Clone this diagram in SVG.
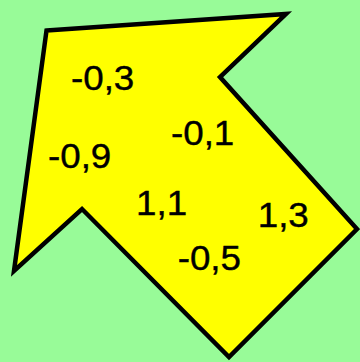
<svg xmlns="http://www.w3.org/2000/svg" width="360" height="362" viewBox="0 0 360 362">
<style>
.bg{fill:#98FB98}
.arrow{fill:#FFFF00;stroke:#000;stroke-width:4.5;stroke-linejoin:miter;stroke-miterlimit:10}
.lbl{font-family:"Liberation Sans",Arial,sans-serif;font-size:35px;fill:#000;stroke:#000;stroke-width:0.4}
</style>
<rect class="bg" x="0" y="0" width="360" height="362"/>
<g id="arrow">
<polygon class="arrow" points="46.5,30.5 286,14 220,77 357,229 229,357 82,209 14,271"/>
</g>
<g id="labels">
<text class="lbl" transform="translate(71,89.5) scale(1.05,1)">-0,3</text>
<text class="lbl" transform="translate(171,144.5) scale(1.05,1)">-0,1</text>
<text class="lbl" transform="translate(48,167.5) scale(1.05,1)">-0,9</text>
<text class="lbl" transform="translate(136,214.5) scale(1.05,1)">1,1</text>
<text class="lbl" transform="translate(257.7,226.5) scale(1.05,1)">1,3</text>
<text class="lbl" transform="translate(177.7,269.5) scale(1.05,1)">-0,5</text>
</g>
</svg>
